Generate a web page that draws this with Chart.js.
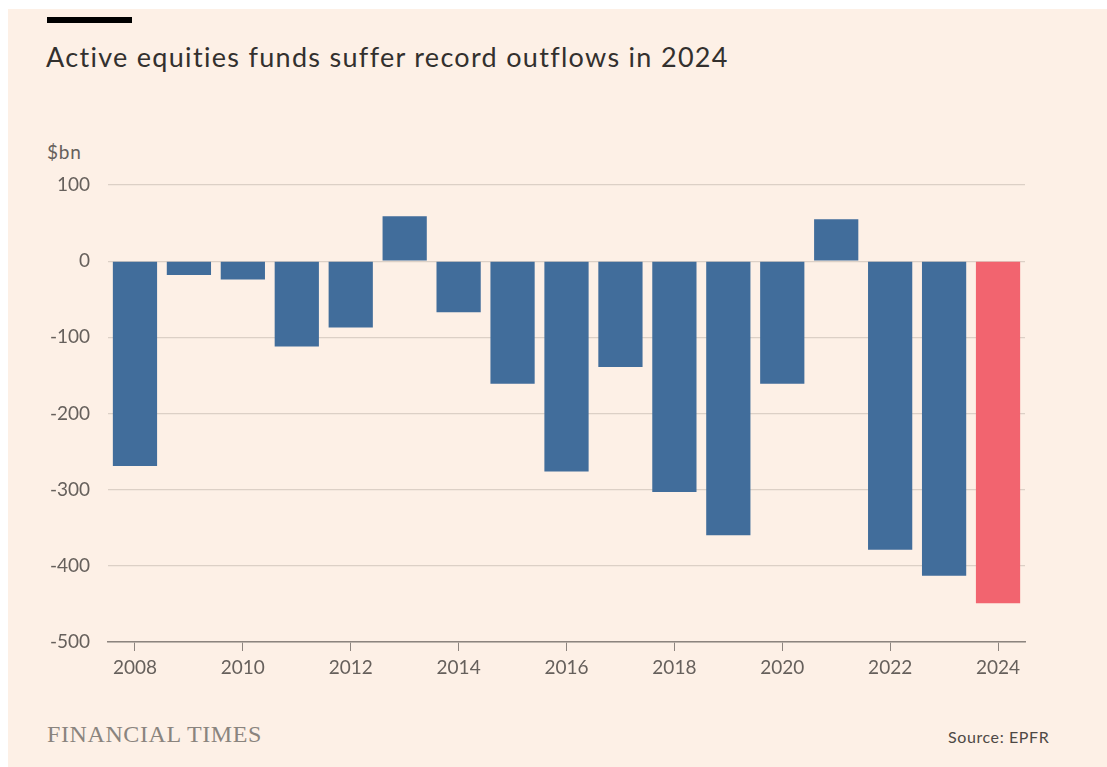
<!DOCTYPE html>
<html>
<head>
<meta charset="utf-8">
<script src="https://cdn.jsdelivr.net/npm/chart.js@4"></script>
<style>
  html, body { margin: 0; padding: 0; background: #fff; }
  #panel {
    position: absolute; left: 8px; top: 9px; width: 1099px; height: 758px;
    background: #fdf0e6;
  }
  #rule { position: absolute; left: 47px; top: 17px; width: 85px; height: 6px; background: #000; }
  #title {
    position: absolute; left: 46px; top: 40px; font: 27px Lato, "Open Sans", sans-serif;
    color: #33302e; white-space: nowrap; letter-spacing: 1.3px;
  }
  #unit { position: absolute; left: 47px; top: 140px; font: 19px Lato, sans-serif; color: #66605c; letter-spacing: 0.8px; }
  #brand {
    position: absolute; left: 47px; top: 721px; font: 24px "Liberation Serif", serif;
    color: #8a847e; letter-spacing: 0.6px;
  }
  #source { position: absolute; left: 948px; top: 727px; font: 16px Lato, sans-serif; color: #4d4845; letter-spacing: 0.6px; }
  #wrap { position: absolute; left: 0; top: 0; width: 1107px; height: 767px; }
</style>
</head>
<body>
<div id="panel"></div>
<div id="rule"></div>
<div id="title">Active equities funds suffer record outflows in 2024</div>
<div id="unit">$bn</div>
<div id="brand">FINANCIAL TIMES</div>
<div id="source">Source: EPFR</div>
<div id="wrap"><canvas id="chart" width="1107" height="767"></canvas></div>
<script>
// annual net flows into active equity funds, $bn
const years = ['2008', '2009', '2010', '2011', '2012', '2013', '2014', '2015', '2016',
  '2017', '2018', '2019', '2020', '2021', '2022', '2023', '2024'];
const flows = [-269, -18, -24, -112, -87, 59, -67, -161, -276,
  -139, -303, -360, -161, 55, -379, -413, -449];
const yTicks = [100, 0, -100, -200, -300, -400, -500];

const blue = '#416d9b';
const red = '#f2646f';

const ctx = document.getElementById('chart').getContext('2d');
new Chart(ctx, {
  type: 'bar',
  data: {
    labels: years,
    datasets: [{
      data: flows,
      backgroundColor: years.map(y => y === '2024' ? red : blue),
      borderWidth: 0,
      categoryPercentage: 1,
      barPercentage: 0.82
    }]
  },
  options: {
    responsive: false,
    animation: false,
    layout: { padding: { left: 30, right: 82, top: 185, bottom: 85 } },
    plugins: { legend: { display: false }, tooltip: { enabled: false } },
    scales: {
      x: {
        afterFit: s => { s.height = 40; },
        grid: {
          offset: false,
          drawOnChartArea: false,
          drawTicks: true,
          tickLength: 9,
          color: c => (c.index % 2 === 0 ? '#8c847e' : 'rgba(0,0,0,0)')
        },
        border: { display: true, color: '#8c847e', width: 1.5 },
        ticks: {
          autoSkip: false,
          maxRotation: 0,
          padding: 5,
          color: '#66605c',
          font: { family: 'Lato', size: 19 },
          callback: (v, i) => (i % 2 === 0 ? years[i] : '')
        }
      },
      y: {
        min: -500,
        max: 100,
        afterFit: s => { s.width = 78; },
        afterBuildTicks: s => { s.ticks = yTicks.map(v => ({ value: v })); },
        grid: { color: '#dcd0c6', drawTicks: false, lineWidth: 1.2 },
        border: { display: false },
        ticks: {
          padding: 18,
          color: '#66605c',
          font: { family: 'Lato', size: 19 }
        }
      }
    }
  }
});
</script>
</body>
</html>
